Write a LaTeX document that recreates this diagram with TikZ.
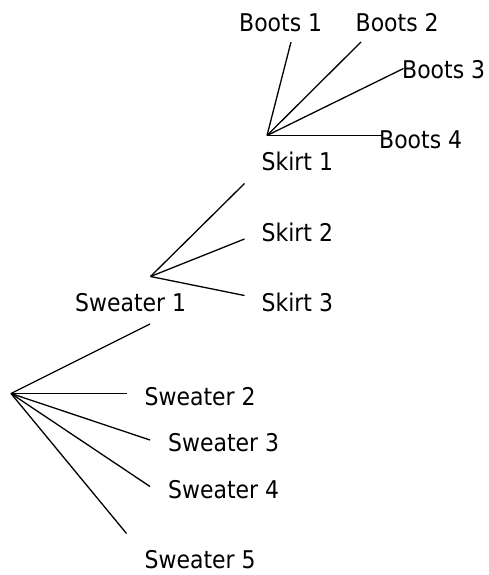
\documentclass[tikz,border=0pt]{standalone}
\usepackage{fontspec}
\setmainfont{DejaVu Sans}[FakeStretch=0.9]
\begin{document}
\begin{tikzpicture}[x=1pt,y=-1pt,
  lbl/.style={anchor=base west,inner sep=0pt,font=\fontsize{24.4}{28}\selectfont},
  edge/.style={line width=1.3pt}]
\useasboundingbox (0,0) rectangle (489,575);
% hubs
\coordinate (h1) at (267,135.5);
\coordinate (h2) at (150.5,276.5);
\coordinate (h3) at (11,393.5);
% free ends
\coordinate (eb1) at (291,42);
\coordinate (eb2) at (361,42);
\coordinate (eb3) at (403.5,68.5);
\coordinate (eb4) at (381.5,135.5);
\coordinate (es1) at (244.5,183.5);
\coordinate (es2) at (244.5,239);
\coordinate (es3) at (244.5,295.5);
\coordinate (ew1) at (150,324);
\coordinate (ew2) at (126.5,393.5);
\coordinate (ew3) at (150,440);
\coordinate (ew4) at (150,486.5);
\coordinate (ew5) at (126.5,533.5);
% labels
\node[lbl] (b1) at (239,31.7) {Boots 1};
\node[lbl] (b2) at (355.5,31.7) {Boots 2};
\node[lbl] (b3) at (402,78.3) {Boots 3};
\node[lbl] (b4) at (379,148.3) {Boots 4};
\node[lbl] (s1) at (261.5,170) {Skirt 1};
\node[lbl] (s2) at (261.5,241.7) {Skirt 2};
\node[lbl] (s3) at (261.5,311.7) {Skirt 3};
\node[lbl] (w1) at (75,311.7) {Sweater 1};
\node[lbl] (w2) at (144.5,405) {Sweater 2};
\node[lbl] (w3) at (168,451.7) {Sweater 3};
\node[lbl] (w4) at (168,498.3) {Sweater 4};
\node[lbl] (w5) at (144.5,568.3) {Sweater 5};
% connectors
\foreach \e in {eb1,eb2,eb3,eb4} \draw[edge] (h1) -- (\e);
\foreach \e in {es1,es2,es3} \draw[edge] (h2) -- (\e);
\foreach \e in {ew1,ew2,ew3,ew4,ew5} \draw[edge] (h3) -- (\e);
\end{tikzpicture}
\end{document}
